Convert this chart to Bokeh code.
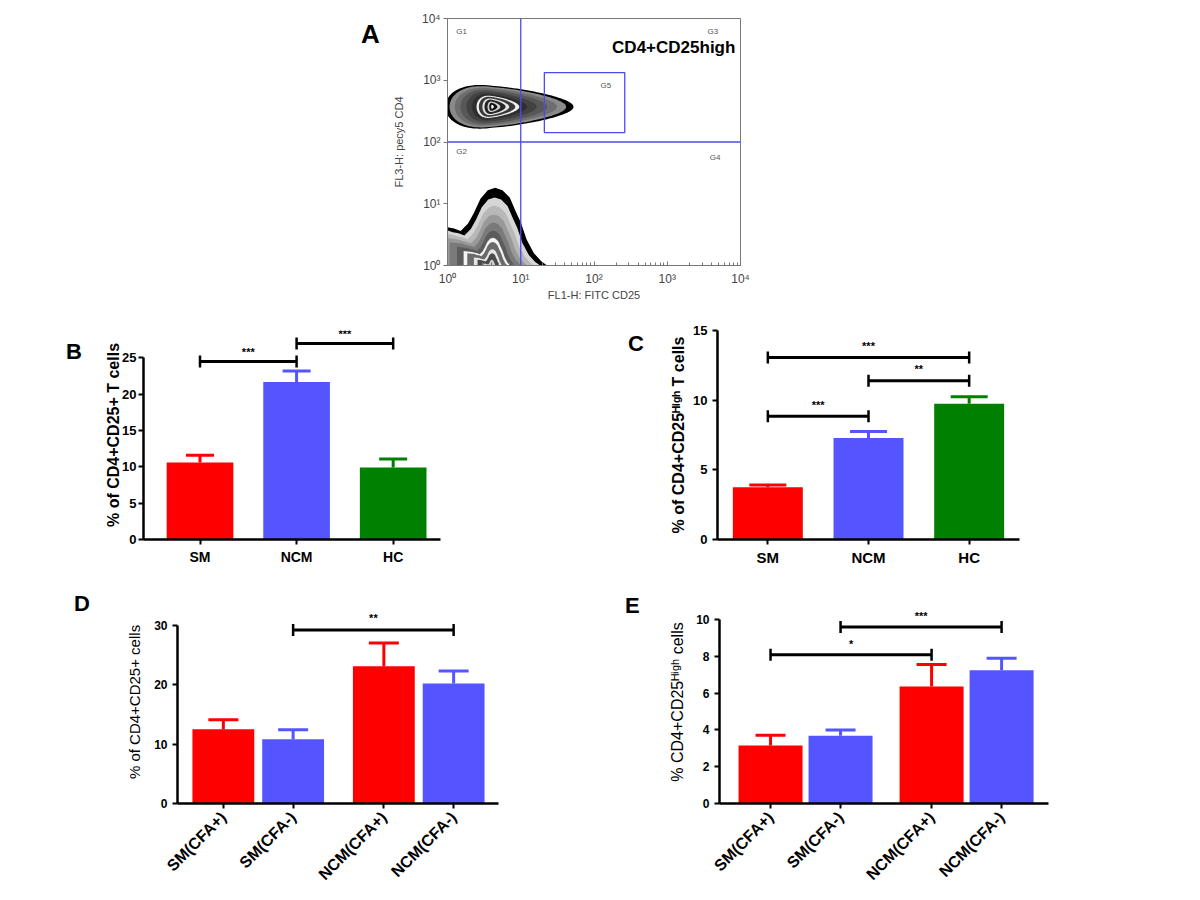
import numpy as np
from bokeh.plotting import figure
from bokeh.models import ColumnDataSource, Range1d, FixedTicker, Span, Spacer, Div
from bokeh.layouts import row, column
from bokeh.embed import file_html
from bokeh.resources import INLINE
from bokeh.core.properties import value

# ---------------- data ----------------
# Panel A: flow-cytometry gates (linear data values on log axes)
gate_x_threshold = 10
gate_y_threshold = 100
g5_left, g5_right, g5_bottom, g5_top = 21, 263, 142, 1333
gate_names = ["G1", "G2", "G3", "G4", "G5"]
gate_label_x = [1.32, 1.32, 3550, 3800, 123]
gate_label_y = [6170, 71, 6170, 56, 813]
a_title = "CD4+CD25high"
a_xlabel = "FL1-H: FITC CD25"
a_ylabel = "FL3-H: pecy5 CD4"
decade_ticks = [1, 10, 100, 1000, 10000]
decade_labels = ["10\u2070", "10\u00b9", "10\u00b2", "10\u00b3", "10\u2074"]

# CD4+ population contour (log10 units): centre, right/left extent, half height
cd4_center = (0.61, 2.57)
cd4_right, cd4_left, cd4_half_h = 1.11, 0.64, 0.34
cd4_levels = [1.0, 0.93, 0.84, 0.74, 0.63, 0.52, 0.43, 0.38, 0.30, 0.25, 0.17, 0.12, 0.05]
cd4_shades = ["#000000", "#8a8a8a", "#6e6e6e", "#575757", "#424242", "#2e2e2e",
              "#f0f0f0", "#3a3a3a", "#e6e6e6", "#262626", "#d0d0d0", "#111111", "#ffffff"]
# CD4- population contour (log10 units)
neg_outline_x = [-0.4, -0.4, -0.1, 0.0, 0.09, 0.18, 0.28, 0.36, 0.45, 0.55, 0.65, 0.75,
                 0.85, 0.93, 1.0, 1.08, 1.18, 1.28, 1.36, 1.45]
neg_outline_y = [-0.3, 0.7, 0.66, 0.62, 0.6, 0.56, 0.68, 0.85, 1.08, 1.22, 1.26, 1.22,
                 1.1, 0.88, 0.7, 0.42, 0.2, 0.07, 0.0, -0.3]
neg_anchor = (0.6, -0.05)
neg_levels = [1.0, 0.88, 0.78, 0.67, 0.57, 0.47, 0.38, 0.33, 0.24, 0.19, 0.11]
neg_shades = ["#000000", "#d6d6d6", "#b8b8b8", "#999999", "#7a7a7a", "#5c5c5c",
              "#f4f4f4", "#6a6a6a", "#e6e6e6", "#4a4a4a", "#cfcfcf"]

# Panels B and C
groups_bc = ["SM", "NCM", "HC"]
colors_bc = ["#FF0000", "#5555FF", "#008000"]
b_mean = [10.6, 21.7, 9.9]
b_sem = [1.0, 1.5, 1.2]
b_sig_from = [0, 1]
b_sig_to = [1, 2]
b_sig_y = [24.5, 27.0]
b_sig_text = ["***", "***"]
b_ylabel = "% of CD4+CD25+ T cells"

c_mean = [3.75, 7.28, 9.74]
c_sem = [0.17, 0.48, 0.51]
c_sig_from = [0, 1, 0]
c_sig_to = [1, 2, 2]
c_sig_y = [8.85, 11.4, 13.06]
c_sig_text = ["***", "**", "***"]
c_ylabel = "% of CD4+CD25\u1d34\u2071\u1d4d\u02b0 T cells"

# Panels D and E
groups_de = ["SM(CFA+)", "SM(CFA-)", "NCM(CFA+)", "NCM(CFA-)"]
colors_de = ["#FF0000", "#5555FF", "#FF0000", "#5555FF"]
d_mean = [12.5, 10.8, 23.1, 20.2]
d_sem = [1.6, 1.6, 3.9, 2.1]
d_sig_from = [1]
d_sig_to = [3]
d_sig_y = [29.2]
d_sig_text = ["**"]
d_ylabel = "% of CD4+CD25+ cells"

e_mean = [3.15, 3.68, 6.37, 7.25]
e_sem = [0.57, 0.32, 1.19, 0.66]
e_sig_from = [0, 1]
e_sig_to = [2, 3]
e_sig_y = [8.1, 9.6]
e_sig_text = ["*", "***"]
e_ylabel = "% CD4+CD25\u1d34\u2071\u1d4d\u02b0 cells"

FONT = value("Liberation Sans")


def letter_div(letter, width, height, pad_left, pad_top, size):
    html = ('<div style="padding-left:%dpx; padding-top:%dpx; font-family:\'Liberation Sans\', Arial, sans-serif; '
            'font-weight:bold; font-size:%dpx; line-height:1; color:black;">%s</div>'
            % (pad_left, pad_top, size, letter))
    return Div(text=html, width=width, height=height, margin=(0, 0, 0, 0))


def style_axes(p, ytick_size, xtick_size, ylabel_size, ylabel_style, ylabel_standoff, ytick_standoff):
    for ax in (p.xaxis[0], p.yaxis[0]):
        ax.axis_line_width = 2.5
        ax.axis_line_color = "black"
        ax.major_tick_line_width = 2
        ax.major_tick_line_color = "black"
        ax.major_tick_out = 5
        ax.major_tick_in = 0
        ax.minor_tick_line_color = None
        ax.major_label_text_font = "Liberation Sans"
        ax.major_label_text_font_style = "bold"
        ax.major_label_text_color = "black"
    p.yaxis.major_label_text_font_size = ytick_size
    p.yaxis.major_label_standoff = ytick_standoff
    p.xaxis.major_label_text_font_size = xtick_size
    p.yaxis.axis_label_text_font = "Liberation Sans"
    p.yaxis.axis_label_text_font_size = ylabel_size
    p.yaxis.axis_label_text_font_style = ylabel_style
    p.yaxis.axis_label_text_color = "black"
    p.yaxis.axis_label_standoff = ylabel_standoff


def bar_panel(width, height, borders, x_range, y_range, y_bounds, y_ticks, cats, positions,
              means, sems, colors, bar_w, cap_px, sig_from, sig_to, sig_y, sig_text,
              ylabel, ytick_size, xtick_size, ylabel_size, ylabel_style,
              ylabel_standoff, ytick_standoff, rotate, xlabel_standoff, star_px):
    left, right, top, bottom = borders
    p = figure(width=width, height=height, x_range=Range1d(*x_range), y_range=Range1d(*y_range),
               output_backend="svg", toolbar_location=None,
               min_border_left=left, min_border_right=right, min_border_top=top,
               min_border_bottom=bottom)
    p.xgrid.visible = False
    p.ygrid.visible = False
    p.outline_line_color = None
    frame_h = height - top - bottom
    ppu = frame_h / (y_range[1] - y_range[0])

    src = ColumnDataSource(dict(x=positions, top=means,
                                up=[m + s for m, s in zip(means, sems)], color=colors))
    p.vbar(x="x", top="top", bottom=0, width=bar_w, fill_color="color", line_color=None, source=src)
    p.segment(x0="x", y0="top", x1="x", y1="up", line_color="color", line_width=3, source=src)
    p.scatter(x="x", y="up", marker="dash", size=cap_px, line_color="color", line_width=3, source=src)

    x0 = [positions[i] for i in sig_from]
    x1 = [positions[i] for i in sig_to]
    p.segment(x0=x0, y0=sig_y, x1=x1, y1=sig_y, line_color="black", line_width=3)
    p.scatter(x=x0 + x1, y=list(sig_y) + list(sig_y), marker="dash", angle=np.pi / 2, size=12,
              line_color="black", line_width=2.5)
    p.text(x=[(a + b) / 2 for a, b in zip(x0, x1)], y=[y + star_px / ppu for y in sig_y], text=sig_text,
           text_align="center", text_baseline="middle", text_font=FONT, text_font_size="11px",
           text_font_style="bold", text_color="black")

    p.xaxis.ticker = FixedTicker(ticks=positions)
    p.xaxis.major_label_overrides = {pos: c for pos, c in zip(positions, cats)}
    p.xaxis.major_label_standoff = xlabel_standoff
    if rotate:
        p.xaxis.major_label_orientation = np.pi / 4
    p.yaxis.ticker = FixedTicker(ticks=y_ticks)
    p.yaxis.bounds = y_bounds
    p.yaxis.axis_label = ylabel
    style_axes(p, ytick_size, xtick_size, ylabel_size, ylabel_style, ylabel_standoff, ytick_standoff)
    return p


# ---------------- Panel A ----------------
pa = figure(width=415, height=303, x_axis_type="log", y_axis_type="log",
            x_range=Range1d(1, 1e4), y_range=Range1d(1, 1e4), output_backend="svg",
            toolbar_location=None, min_border_left=62, min_border_right=60,
            min_border_top=18, min_border_bottom=38)
pa.xgrid.visible = False
pa.ygrid.visible = False
pa.outline_line_color = "#777777"

theta = np.linspace(0, 2 * np.pi, 160)
cos_t, sin_t = np.cos(theta), np.sin(theta)
cd4_xs, cd4_ys = [], []
for s in cd4_levels:
    ax_ext = np.where(cos_t >= 0, cd4_right, cd4_left) * s ** 1.3
    ay_ext = cd4_half_h * s ** 0.8
    cd4_xs.append(10 ** (cd4_center[0] + ax_ext * cos_t))
    cd4_ys.append(10 ** (cd4_center[1] + ay_ext * sin_t * (1 - 0.3 * cos_t)))
pa.patches(xs=cd4_xs, ys=cd4_ys, fill_color=cd4_shades, line_color=None)

nx, ny = np.array(neg_outline_x), np.array(neg_outline_y)
neg_xs, neg_ys = [], []
for s in neg_levels:
    neg_xs.append(10 ** (neg_anchor[0] + s * (nx - neg_anchor[0])))
    neg_ys.append(10 ** (neg_anchor[1] + s * (ny - neg_anchor[1])))
pa.patches(xs=neg_xs, ys=neg_ys, fill_color=neg_shades, line_color=None)

pa.add_layout(Span(location=gate_x_threshold, dimension="height", line_color="#4a4aee", line_width=1.3))
pa.add_layout(Span(location=gate_y_threshold, dimension="width", line_color="#4a4aee", line_width=1.3))
pa.quad(left=[g5_left], right=[g5_right], bottom=[g5_bottom], top=[g5_top], fill_color=None,
        line_color="#4a4aee", line_width=1.3)
pa.text(x=gate_label_x, y=gate_label_y, text=gate_names, text_font=FONT, text_font_size="8px",
        text_color="#555555", text_align="left", text_baseline="middle")
pa.text(x=[10 ** 3.93], y=[10 ** 3.53], text=[a_title], text_font=FONT, text_font_size="17px",
        text_font_style="bold", text_align="right", text_baseline="middle", text_color="black")

minor = [m * 10 ** k for k in range(4) for m in range(2, 10)]
pa.xaxis.ticker = FixedTicker(ticks=decade_ticks, minor_ticks=minor)
pa.yaxis.ticker = FixedTicker(ticks=decade_ticks)
for ax in (pa.xaxis[0], pa.yaxis[0]):
    ax.major_label_overrides = {t: l for t, l in zip(decade_ticks, decade_labels)}
    ax.axis_line_color = "#777777"
    ax.major_tick_line_color = "#777777"
    ax.minor_tick_line_color = "#777777"
    ax.major_label_text_font = "Liberation Sans"
    ax.major_label_text_font_size = "12px"
    ax.major_label_text_color = "#444444"
    ax.axis_label_text_font = "Liberation Sans"
    ax.axis_label_text_font_size = "11px"
    ax.axis_label_text_font_style = "normal"
    ax.axis_label_text_color = "#444444"
pa.xaxis.major_tick_in = 4
pa.xaxis.major_tick_out = 0
pa.xaxis.minor_tick_in = 3
pa.xaxis.minor_tick_out = 0
pa.xaxis.major_label_standoff = 6
pa.xaxis.axis_label_standoff = 0
pa.yaxis.major_tick_in = 0
pa.yaxis.major_tick_out = 4
pa.yaxis.minor_tick_line_color = None
pa.yaxis.major_label_standoff = 3
pa.yaxis.axis_label_standoff = 14
pa.xaxis.axis_label = a_xlabel
pa.yaxis.axis_label = a_ylabel

# ---------------- Panels B-E ----------------
pos_bc = list(range(len(groups_bc)))
pos_de = [i + (0.3 if i >= 2 else 0.0) for i in range(len(groups_de))]

pb = bar_panel(510, 282, (53, 160, 0, 46), (-0.585, 2.49), (0, 236 / 8.2), (0, 25),
               [0, 5, 10, 15, 20, 25], groups_bc, pos_bc, b_mean, b_sem, colors_bc, 0.69, 28,
               b_sig_from, b_sig_to, b_sig_y, b_sig_text, b_ylabel,
               "13px", "14px", "16px", "bold", -3, 2, False, 4, 11)
pc = bar_panel(530, 282, (57, 171, 27, 38), (-0.5, 2.5), (0, 15), (0, 15),
               [0, 5, 10, 15], groups_bc, pos_bc, c_mean, c_sem, colors_bc, 0.695, 37,
               c_sig_from, c_sig_to, c_sig_y, c_sig_text, c_ylabel,
               "13px", "15px", "16px", "bold", 3, 5, False, 4, 12)
pd_ = bar_panel(490, 307, (67, 102, 15, 86), (-0.657, 3.943), (0, 206 / 6.033), (0, 30),
                [0, 10, 20, 30], groups_de, pos_de, d_mean, d_sem, colors_de, 0.886, 30,
                d_sig_from, d_sig_to, d_sig_y, d_sig_text, d_ylabel,
                "12px", "16px", "15px", "normal", 8, 5, True, 6, 12)
pe = bar_panel(530, 307, (59, 142, 10, 89), (-0.729, 3.97), (0, 208 / 18.83), (0, 10),
               [0, 2, 4, 6, 8, 10], groups_de, pos_de, e_mean, e_sem, colors_de, 0.914, 30,
               e_sig_from, e_sig_to, e_sig_y, e_sig_text, e_ylabel,
               "12px", "16px", "16px", "normal", 7, 5, True, 6, 11)

div_a = letter_div("A", 45, 303, 21, 21, 26)
div_b = letter_div("B", 90, 282, 66, 38, 22)
div_c = letter_div("C", 60, 282, 28, 30, 22)
div_d = letter_div("D", 110, 307, 74, 8, 22)
div_e = letter_div("E", 60, 307, 25, 10, 22)

layout = column(row(Spacer(width=340, height=303), div_a, pa),
                row(div_b, pb, div_c, pc),
                row(div_d, pd_, div_e, pe))
open("out.html", "w").write(file_html(layout, INLINE))
